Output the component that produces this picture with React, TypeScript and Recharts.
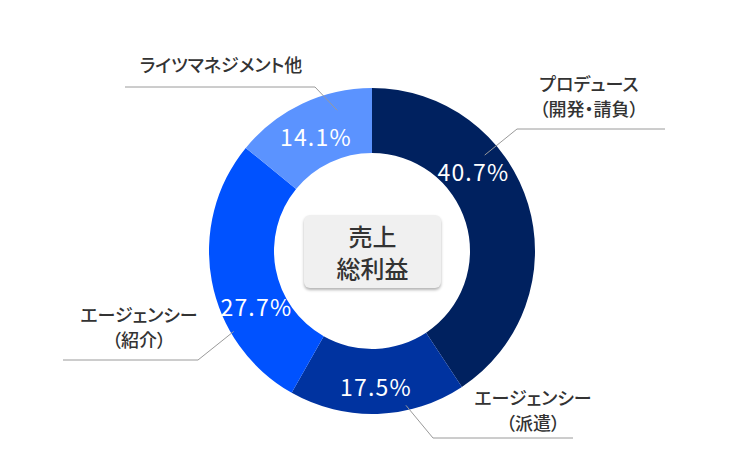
import React from 'react'
import { PieChart, Pie, Cell } from 'recharts'

// 売上総利益の内訳
const segments = ['プロデュース（開発・請負）', 'エージェンシー（派遣）', 'エージェンシー（紹介）', 'ライツマネジメント他']
const shares = [40.7, 17.5, 27.7, 14.1]
const outerLines = [
  ['プロデュース', '（開発・請負）'],
  ['エージェンシー', '（派遣）'],
  ['エージェンシー', '（紹介）'],
  ['ライツマネジメント他'],
]
const centerLines = ['売上', '総利益']

const COLORS = ['#00215F', '#0033A0', '#0052FF', '#5B93FF']

const W = 744
const H = 460
const CX = 372
const CY = 251
const INNER = 98
const OUTER = 163

// annotation layout per slice: pct / anchor in polar (deg clockwise from top, radius),
// elbow / line end / text as offsets from the pie centre
const LAYOUT = [
  { pct: [51.8, 129], anchor: [49.6, 148], elbow: [145, -122], endDx: 293, textDx: 217, textDy: -168 },
  { pct: [178.3, 135], anchor: [167.6, 158], elbow: [61, 187], endDx: 201, textDx: 161, textDy: 146 },
  { pct: [244.6, 128], anchor: [239.8, 160], elbow: [-174, 109], endDx: -309, textDx: -233, textDy: 63 },
  { pct: [334, 128], anchor: [346.1, 145], elbow: [-57, -164], endDx: -247, textDx: -151, textDy: -187 },
]

const FONT = '"Noto Sans CJK JP", "Noto Sans", sans-serif'

const data = segments.map((name, i) => ({ name, value: shares[i] }))

function polar(cx: number, cy: number, deg: number, r: number) {
  const a = (deg * Math.PI) / 180
  return { x: cx + r * Math.sin(a), y: cy - r * Math.cos(a) }
}

function renderLabel(props: any) {
  const { cx, cy, index, value } = props
  const l = LAYOUT[index]
  const p = polar(cx, cy, l.pct[0], l.pct[1])
  const a = polar(cx, cy, l.anchor[0], l.anchor[1])
  const ex = cx + l.elbow[0]
  const ey = cy + l.elbow[1]
  const lines = outerLines[index]
  return (
    <g>
      <polyline
        points={`${a.x},${a.y} ${ex},${ey} ${cx + l.endDx},${ey}`}
        fill="none"
        stroke="#9a9a9a"
        strokeWidth={1}
      />
      <text
        x={p.x}
        y={p.y}
        fill="#ffffff"
        fontSize={23}
        letterSpacing={1.2}
        textAnchor="middle"
        dominantBaseline="central"
        fontFamily={FONT}
      >
        {`${Number(value).toFixed(1)}%`}
      </text>
      <text
        fill="#333333"
        fontSize={18}
        fontWeight={500}
        textAnchor="middle"
        dominantBaseline="central"
        fontFamily={FONT}
        style={{ fontFeatureSettings: '"palt"' }}
      >
        {lines.map((t, j) => (
          <tspan key={j} x={cx + l.textDx} y={cy + l.textDy + j * 25}>
            {t}
          </tspan>
        ))}
      </text>
    </g>
  )
}

export default function App() {
  return (
    <div style={{ position: 'absolute', left: 0, top: 0, width: W, height: H, background: '#fff' }}>
      <PieChart width={W} height={H} margin={{ top: 0, right: 0, bottom: 0, left: 0 }}>
        <Pie
          data={data}
          dataKey="value"
          nameKey="name"
          cx={CX}
          cy={CY}
          innerRadius={INNER}
          outerRadius={OUTER}
          startAngle={90}
          endAngle={-270}
          stroke="none"
          label={renderLabel}
          labelLine={false}
          isAnimationActive={false}
        >
          {data.map((d, i) => (
            <Cell key={d.name} fill={COLORS[i]} />
          ))}
        </Pie>
      </PieChart>
      <div
        style={{
          position: 'absolute',
          left: CX - 68,
          top: CY - 36,
          width: 137,
          height: 73,
          background: '#f0f0f0',
          borderRadius: 6,
          boxShadow: '0 2px 3px rgba(0,0,0,0.3)',
          display: 'flex',
          flexDirection: 'column',
          alignItems: 'center',
          justifyContent: 'center',
          fontFamily: FONT,
          fontSize: 24,
          fontWeight: 500,
          lineHeight: '32px',
          color: '#333',
        }}
      >
        {centerLines.map((t) => (
          <div key={t}>{t}</div>
        ))}
      </div>
    </div>
  )
}
